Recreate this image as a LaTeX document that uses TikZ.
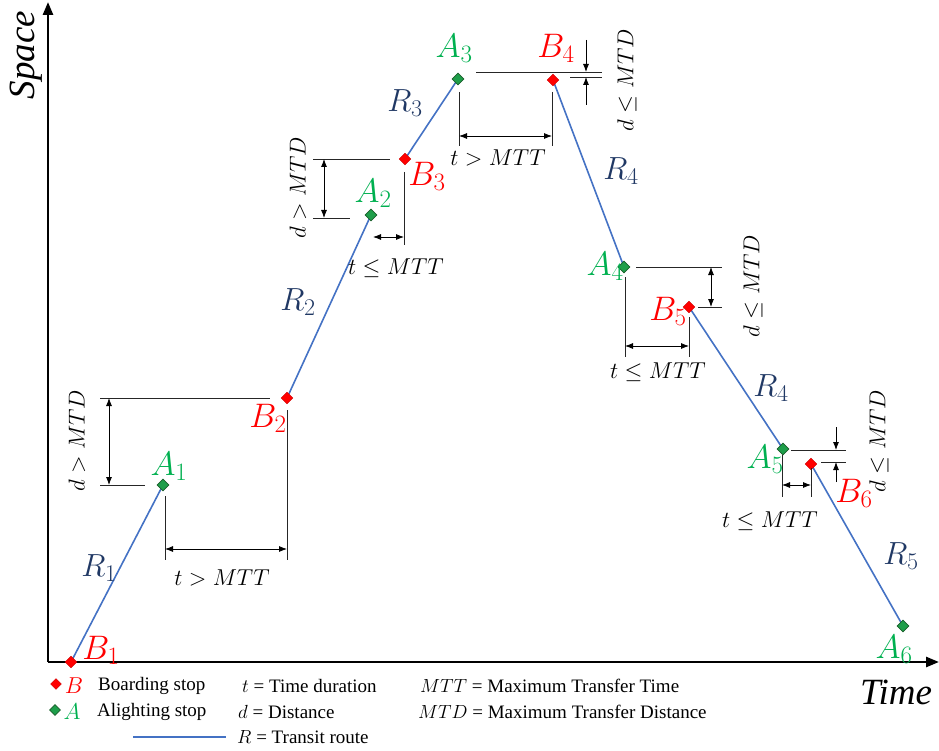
\documentclass[tikz,border=0pt]{standalone}
\usepackage{fix-cm}
\usepackage{fontspec}
\setmainfont{Liberation Serif}
\usetikzlibrary{arrows.meta,shapes.geometric,backgrounds}
\DeclareMathSizes{34}{34}{25}{19}
\DeclareMathSizes{32}{32}{24}{18}
\definecolor{routeblue}{HTML}{4472C4}
\definecolor{rlab}{HTML}{203864}
\definecolor{agreen}{HTML}{00B050}
\definecolor{dfill}{HTML}{1E9E4A}
\definecolor{dedge}{HTML}{1B5E2B}
\definecolor{bred}{HTML}{FF0000}
\tikzset{
  bstop/.style={diamond,fill=bred,draw=bred!80!black,line width=0.4pt,minimum size=12pt,inner sep=0pt},
  astop/.style={diamond,fill=dfill,draw=dedge,line width=0.6pt,minimum size=12pt,inner sep=0pt},
  route/.style={routeblue,line width=1.6pt},
  blab/.style={text=bred,font=\fontsize{34}{36}\selectfont,inner sep=0pt},
  alab/.style={text=agreen,font=\fontsize{34}{36}\selectfont,inner sep=0pt},
  rlabel/.style={text=rlab,font=\fontsize{32}{34}\selectfont,inner sep=0pt},
  dimlab/.style={font=\fontsize{23}{26}\selectfont,inner sep=0pt},
  ext/.style={black!85,line width=0.8pt},
  dimarrow/.style={{Latex[length=8pt,width=6pt]}-{Latex[length=8pt,width=6pt]},line width=0.8pt},
  onearrow/.style={-{Latex[length=8pt,width=6pt]},line width=0.8pt},
  axis/.style={line width=2.6pt,-{Triangle[length=13pt,width=10pt]}},
  axlab/.style={font=\fontsize{37}{40}\selectfont\itshape,inner sep=0pt},
  legtext/.style={font=\fontsize{19}{22}\selectfont,anchor=west,inner sep=0pt},
}
\begin{document}
\begin{tikzpicture}[x=1pt,y=-1pt]
\useasboundingbox (0,0) rectangle (939,751);
% axes
\coordinate (O) at (48,662);
\coordinate (ytop) at (48,2);
\coordinate (xend) at (939,662);
\draw[axis] (O) -- (ytop);
\draw[axis] (O) -- (xend);
\node[axlab,rotate=90] (space) at (26,55) {Space};
\node[axlab] (time) at (896,692) {Time};

% stops
\node[bstop] (B1) at (71,662) {};
\node[astop] (A1) at (163,485) {};
\node[bstop] (B2) at (287,398) {};
\node[astop] (A2) at (371,215) {};
\node[bstop] (B3) at (405,159) {};
\node[astop] (A3) at (458,79) {};
\node[bstop] (B4) at (553,80) {};
\node[astop] (A4) at (624,267) {};
\node[bstop] (B5) at (689,307) {};
\node[astop] (A5) at (783,449) {};
\node[bstop] (B6) at (811,464) {};
\node[astop] (A6) at (903,626) {};

\begin{scope}[on background layer]
\draw[route] (B1.center) -- (A1.center);
\draw[route] (B2.center) -- (A2.center);
\draw[route] (B3.center) -- (A3.center);
\draw[route] (B4.center) -- (A4.center);
\draw[route] (B5.center) -- (A5.center);
\draw[route] (B6.center) -- (A6.center);
\end{scope}

% stop labels
\node[blab] (lB1) at (101,650) {$B_1$};
\node[alab] (lA1) at (169,466) {$A_1$};
\node[blab] (lB2) at (268,418) {$B_2$};
\node[alab] (lA2) at (373,193) {$A_2$};
\node[blab] (lB3) at (427,176) {$B_3$};
\node[alab] (lA3) at (454,48) {$A_3$};
\node[blab] (lB4) at (556,48) {$B_4$};
\node[alab] (lA4) at (605,266) {$A_4$};
\node[blab] (lB5) at (668,311) {$B_5$};
\node[alab] (lA5) at (765,459) {$A_5$};
\node[blab] (lB6) at (854,493) {$B_6$};
\node[alab] (lA6) at (894,649) {$A_6$};

% route labels
\node[rlabel] (R1) at (99,568) {$R_1$};
\node[rlabel] (R2) at (298,302) {$R_2$};
\node[rlabel] (R3) at (405,103) {$R_3$};
\node[rlabel] (R4a) at (621,171) {$R_4$};
\node[rlabel] (R4b) at (771,388) {$R_4$};
\node[rlabel] (R5) at (901,556) {$R_5$};

% --- A1 / B2 ---
\draw[ext] (100,398) -- (270,398);
\draw[ext] (100,485) -- (145,485);
\draw[dimarrow] (109,398) -- (109,485);
\node[dimlab,rotate=90] (d1) at (77,441) {$d > MTD$};
\draw[ext] (165,496) -- (165,560);
\draw[ext] (287,410) -- (287,560);
\draw[dimarrow] (165,549) -- (287,549);
\node[dimlab] (t1) at (222,578) {$t > MTT$};

% --- A2 / B3 ---
\draw[ext] (313,159) -- (390,159);
\draw[ext] (313,218) -- (350,218);
\draw[dimarrow] (324,159) -- (324,218);
\node[dimlab,rotate=90] (d2) at (298,188) {$d > MTD$};
\draw[ext] (404,172) -- (404,245);
\draw[dimarrow] (373,237) -- (404,237);
\node[dimlab] (t2) at (396,268) {$t \leq MTT$};

% --- A3 / B4 ---
\draw[ext] (459,92) -- (459,146);
\draw[ext] (552,92) -- (552,146);
\draw[dimarrow] (459,136) -- (552,136);
\node[dimlab] (t3) at (498,158) {$t > MTT$};
\draw[ext] (476,72) -- (602,72);
\draw[ext] (570,77) -- (602,77);
\draw[onearrow] (586,40) -- (586,72);
\draw[onearrow] (586,105) -- (586,77);
\node[dimlab,rotate=90] (d3) at (627,80) {$d \leq MTD$};

% --- A4 / B5 ---
\draw[ext] (636,267) -- (722,267);
\draw[ext] (698,307) -- (722,307);
\draw[dimarrow] (711,267) -- (711,307);
\node[dimlab,rotate=90] (d4) at (753,286) {$d \leq MTD$};
\draw[ext] (625,277) -- (625,357);
\draw[ext] (689,317) -- (689,357);
\draw[dimarrow] (625,346) -- (689,346);
\node[dimlab] (t4) at (658,372) {$t \leq MTT$};

% --- A5 / B6 ---
\draw[ext] (791,450) -- (846,450);
\draw[ext] (821,462) -- (846,462);
\draw[onearrow] (836,427) -- (836,450);
\draw[onearrow] (836,482) -- (836,462);
\node[dimlab,rotate=90] (d5) at (879,441) {$d \leq MTD$};
\draw[ext] (782,455) -- (782,497);
\draw[ext] (811,468) -- (811,497);
\draw[dimarrow] (782,485) -- (811,485);
\node[dimlab] (t5) at (770,521) {$t \leq MTT$};

% legend
\node[bstop,minimum size=11pt] (legB) at (56,684) {};
\node[text=bred,font=\fontsize{23}{25}\selectfont,inner sep=0pt] (legBl) at (74,686) {$B$};
\node[legtext] (legBt) at (98,686) {Boarding stop};
\node[astop,minimum size=11pt] (legA) at (55,710) {};
\node[text=agreen,font=\fontsize{23}{25}\selectfont,inner sep=0pt] (legAl) at (72,712) {$A$};
\node[legtext] (legAt) at (97,712) {Alighting stop};
\node[legtext] (legt) at (242,686) {$t$ = Time duration};
\node[legtext] (legd) at (238,712) {$d$ = Distance};
\node[legtext] (legmtt) at (420,686) {$MTT$ = Maximum Transfer Time};
\node[legtext] (legmtd) at (418,712) {$MTD$ = Maximum Transfer Distance};
\coordinate (legR1) at (133,737);
\coordinate (legR2) at (226,737);
\draw[route] (legR1) -- (legR2);
\node[legtext] (legR) at (237,737) {$R$ = Transit route};
\end{tikzpicture}
\end{document}
